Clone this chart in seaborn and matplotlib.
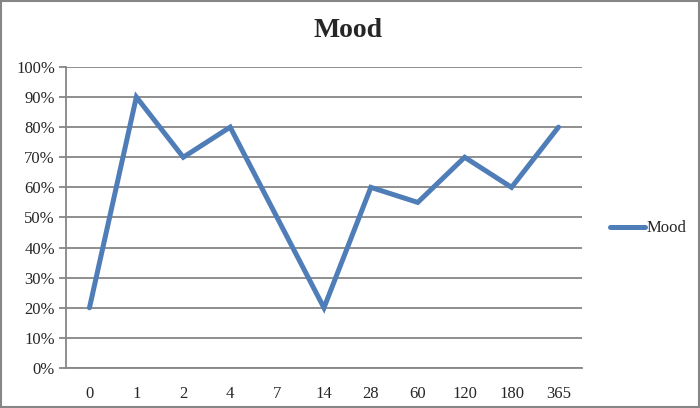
import matplotlib
matplotlib.use('Agg')
import matplotlib.pyplot as plt
import seaborn as sns
import pandas as pd
from matplotlib.ticker import PercentFormatter, FixedLocator

# Dados do gráfico
dias = ['0', '1', '2', '4', '7', '14', '28', '60', '120', '180', '365']
humor = [0.20, 0.90, 0.70, 0.80, 0.50, 0.20, 0.60, 0.55, 0.70, 0.60, 0.80]

df = pd.DataFrame({'dia': dias, 'Mood': humor})

sns.set_style('white')
plt.rcParams['font.family'] = ['Liberation Serif', 'DejaVu Serif']

fig = plt.figure(figsize=(7, 4.08), dpi=100)
ax = fig.add_axes([0.0943, 0.098, 0.737, 0.738])

sns.lineplot(data=df, x='dia', y='Mood', color='#4F7DB8', linewidth=3.6,
             sort=False, ax=ax, label='Mood', solid_capstyle='round',
             solid_joinstyle='miter')

ax.set_xlim(-0.5, len(dias) - 0.5)
ax.set_ylim(0, 1.0)
ax.set_yticks([i / 10 for i in range(11)])
ax.yaxis.set_major_formatter(PercentFormatter(1.0, decimals=0))
ax.yaxis.grid(True, color='#868686', linewidth=1.3)
ax.set_axisbelow(True)

# Marcas do eixo x entre as categorias (estilo Excel)
ax.set_xticks(range(len(dias)))
ax.set_xticklabels(dias)
ax.tick_params(axis='x', length=0, pad=13, labelsize=12)
ax.xaxis.set_minor_locator(FixedLocator([i - 0.5 for i in range(len(dias) + 1)]))
ax.tick_params(axis='x', which='minor', length=5, color='#868686', width=1.3)
ax.tick_params(axis='y', length=5, color='#868686', width=1.3, labelsize=12,
               left=True, pad=3)

for lado in ['top', 'right']:
    ax.spines[lado].set_visible(False)
for lado in ['left', 'bottom']:
    ax.spines[lado].set_color('#868686')
    ax.spines[lado].set_linewidth(1.3)

ax.set_xlabel('')
ax.set_ylabel('')
fig.text(0.497, 0.925, 'Mood', ha='center', va='center', fontsize=20,
         fontweight='bold')

ax.legend(loc='center left', bbox_to_anchor=(0.855, 0.44),
          bbox_transform=fig.transFigure, frameon=False, fontsize=12,
          handlelength=2.1, handletextpad=0.1, borderpad=0.2)

# Borda da figura
fig.patches.append(plt.Rectangle((0.002, 0.003), 0.996, 0.994,
                                 transform=fig.transFigure, fill=False,
                                 edgecolor='#868686', linewidth=1.5))

fig.savefig('out.png', dpi=100)
